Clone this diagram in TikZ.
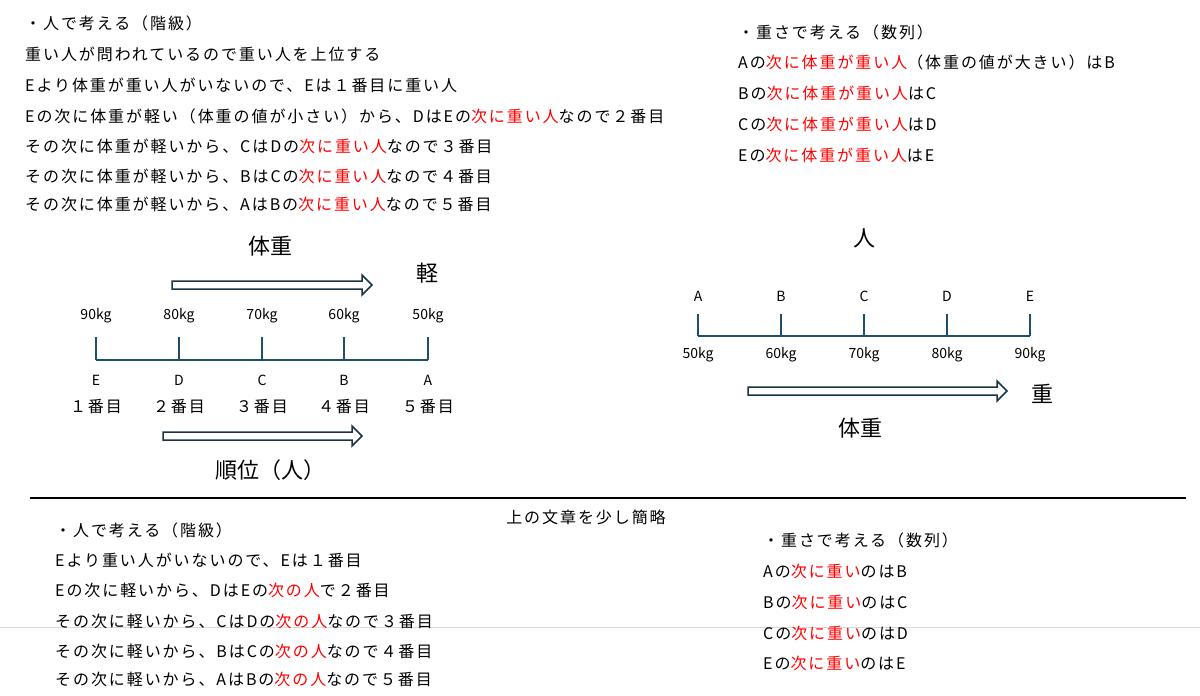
\documentclass[tikz,border=0pt]{standalone}
\usepackage{fontspec}
\setmainfont{Noto Sans CJK JP}
\newfontfamily\wide{Noto Sans CJK JP}[LetterSpace=12]
\usetikzlibrary{positioning}
\definecolor{axisblue}{RGB}{31,78,104}
\definecolor{arrowdark}{RGB}{24,52,70}
\newcommand{\hl}[1]{\textcolor{red}{#1}}
\tikzset{
  txt/.style={anchor=west,inner sep=0pt,font=\wide\fontsize{16}{16}\selectfont},
  big/.style={inner sep=0pt,font=\fontsize{22}{22}\selectfont},
  lab/.style={inner sep=0pt,font=\fontsize{14}{14}\selectfont},
  axis/.style={draw=axisblue,line width=1.5pt},
}
% hollow block arrow from (x1,y) of length L
\newcommand{\blockarrow}[3]{%
  \draw[arrowdark,line width=1.5pt,fill=white] (#1,#2-4) -- (#1+#3-10,#2-4) -- (#1+#3-10,#2-10)
    -- (#1+#3,#2) -- (#1+#3-10,#2+10) -- (#1+#3-10,#2+4) -- (#1,#2+4) -- cycle;}
\begin{document}
\begin{tikzpicture}[x=1pt,y=1pt,yscale=-1]
\useasboundingbox (0,0) rectangle (1200,696);

%Top left text
\node[txt] (t1) at (25,23) {・人で考える（階級）};
\node[txt] (t2) at (25,54) {重い人が問われているので重い人を上位する};
\node[txt] (t3) at (25,85) {Eより体重が重い人がいないので、Eは１番目に重い人};
\node[txt] (t4) at (25,116) {Eの次に体重が軽い（体重の値が小さい）から、DはEの\hl{次に重い人}なので２番目};
\node[txt] (t5) at (25,146) {その次に体重が軽いから、CはDの\hl{次に重い人}なので３番目};
\node[txt] (t6) at (25,176) {その次に体重が軽いから、BはCの\hl{次に重い人}なので４番目};
\node[txt] (t7) at (25,204) {その次に体重が軽いから、AはBの\hl{次に重い人}なので５番目};

%Top right text
\node[txt] (r1) at (738,32) {・重さで考える（数列）};
\node[txt] (r2) at (738,62) {Aの\hl{次に体重が重い人}（体重の値が大きい）はB};
\node[txt] (r3) at (738,93) {Bの\hl{次に体重が重い人}はC};
\node[txt] (r4) at (738,124) {Cの\hl{次に体重が重い人}はD};
\node[txt] (r5) at (738,155) {Eの\hl{次に体重が重い人}はE};

%Left axis
\draw[axis] (96,360) -- (428,360);
\foreach \x/\kg/\p/\n in {96/90/E/１,179/80/D/２,262/70/C/３,344/60/B/４,428/50/A/５}{
  \draw[axis] (\x,337) -- (\x,360);
  \node[lab] at (\x,316) {\kg kg};
  \node[lab] at (\x,380) {\p};
  \node[txt,anchor=center] at (\x,407) {\n 番目};
}
\blockarrow{172}{285}{200}
\blockarrow{163}{436}{199}
\node[big] (wL) at (270,246) {体重};
\node[big] (light) at (427,273) {軽};
\node[big] (rank) at (270,470) {順位（人）};

%Right axis
\draw[axis] (698,336) -- (1030,336);
\foreach \x/\kg/\p in {698/50/A,781/60/B,864/70/C,947/80/D,1030/90/E}{
  \draw[axis] (\x,314) -- (\x,336);
  \node[lab] at (\x,296) {\p};
  \node[lab] at (\x,355) {\kg kg};
}
\blockarrow{748}{391}{259}
\node[big] (heavy) at (1042,394) {重};
\node[big] (wR) at (860,428) {体重};
\node[big] (person) at (864,238) {人};

%Separators
\draw[line width=1.5pt] (30,498) -- (1186,498);
\draw[black!15,line width=0.8pt] (0,627) -- (1200,627);
\node[txt,anchor=center] (sum) at (586,517) {上の文章を少し簡略};

%Bottom left text
\node[txt] (b1) at (55,530) {・人で考える（階級）};
\node[txt] (b2) at (55,560) {Eより重い人がいないので、Eは１番目};
\node[txt] (b3) at (55,590) {Eの次に軽いから、DはEの\hl{次の人}で２番目};
\node[txt] (b4) at (55,621) {その次に軽いから、CはDの\hl{次の人}なので３番目};
\node[txt] (b5) at (55,651) {その次に軽いから、BはCの\hl{次の人}なので４番目};
\node[txt] (b6) at (55,679) {その次に軽いから、AはBの\hl{次の人}なので５番目};

%Bottom right text
\node[txt] (c1) at (763,540) {・重さで考える（数列）};
\node[txt] (c2) at (763,571) {Aの\hl{次に重い}のはB};
\node[txt] (c3) at (763,602) {Bの\hl{次に重い}のはC};
\node[txt] (c4) at (763,633) {Cの\hl{次に重い}のはD};
\node[txt] (c5) at (763,663) {Eの\hl{次に重い}のはE};
\end{tikzpicture}
\end{document}
